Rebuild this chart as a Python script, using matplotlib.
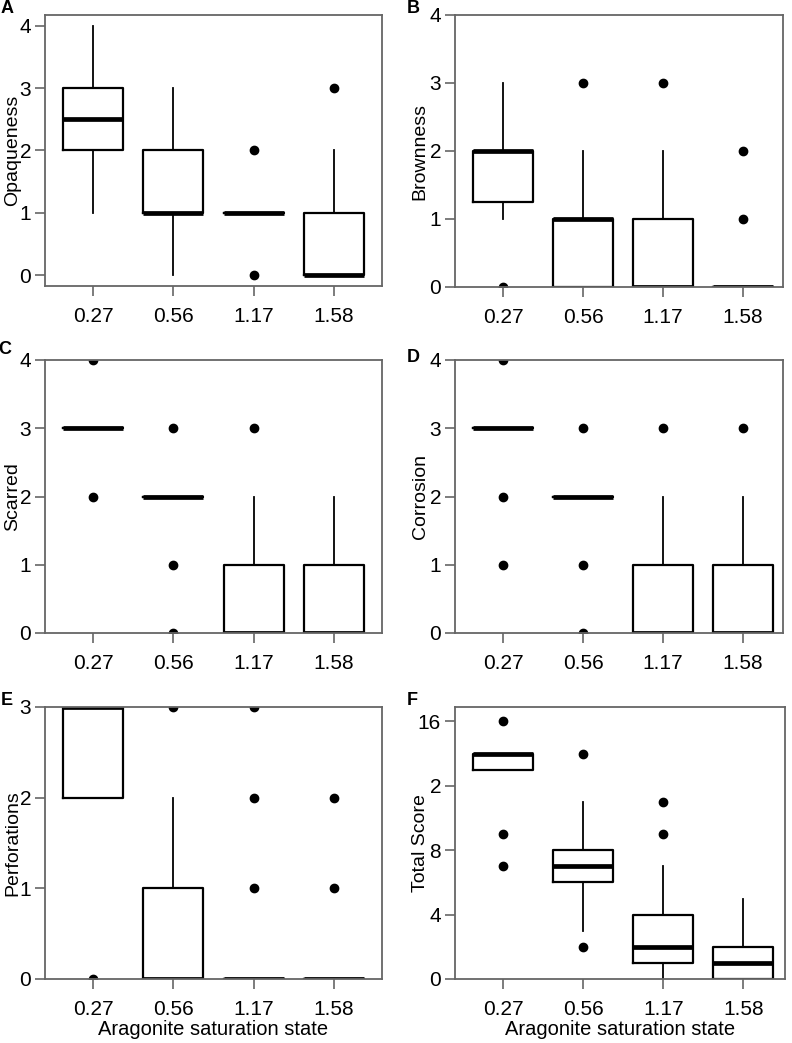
import numpy as np
import matplotlib
matplotlib.use("Agg")
import matplotlib.pyplot as plt

plt.rcParams['font.family'] = ['Liberation Sans', 'DejaVu Sans']

#==========================DATA========================================
# x categories (aragonite saturation state)
states = ['0.27', '0.56', '1.17', '1.58']

# box stats per category: [whislo, q1, med, q3, whishi]
opaq_box = [[1, 2, 2.5, 3, 4], [0, 1, 1, 2, 3], [1, 1, 1, 1, 1], [0, 0, 0, 1, 2]]
opaq_out = [[], [], [0, 2], [3]]

brown_box = [[1, 1.25, 2, 2, 3], [0, 0, 1, 1, 2], [0, 0, 0, 1, 2], [0, 0, 0, 0, 0]]
brown_out = [[0], [3], [3], [1, 2]]

scar_box = [[3, 3, 3, 3, 3], [2, 2, 2, 2, 2], [0, 0, 0, 1, 2], [0, 0, 0, 1, 2]]
scar_out = [[2, 4], [0, 1, 3], [3], []]

corr_box = [[3, 3, 3, 3, 3], [2, 2, 2, 2, 2], [0, 0, 0, 1, 2], [0, 0, 0, 1, 2]]
corr_out = [[1, 2, 4], [0, 1, 3], [3], [3]]

perf_box = [[2, 2, 3, 3, 3], [0, 0, 0, 1, 2], [0, 0, 0, 0, 0], [0, 0, 0, 0, 0]]
perf_out = [[0], [3], [1, 2, 3], [1, 2]]

total_box = [[13, 13, 14, 14, 14], [3, 6, 7, 8, 11], [0, 1, 2, 4, 7], [0, 0, 1, 2, 5]]
total_out = [[7, 9, 16], [2, 14], [9, 11], []]

#==========================LAYOUT (pixels)=============================
W, H = 792, 1043
fig = plt.figure(figsize=(W / 100, H / 100), dpi=100)

def px_axes(left, right, top, bottom):
    return fig.add_axes([left / W, 1 - bottom / H, (right - left) / W, (bottom - top) / H])

def make_stats(boxes, outs):
    st = []
    for b, o in zip(boxes, outs):
        st.append(dict(whislo=b[0], q1=b[1], med=b[2], q3=b[3], whishi=b[4], fliers=o))
    return st

frame_col = '#666666'
fs = 15

def draw_panel(ax, boxes, outs, ylabel, ylim, yticks, yticklabels, xlim, labx, letter, letter_xy):
    ax.bxp(make_stats(boxes, outs), positions=[1, 2, 3, 4], widths=0.75, showcaps=False,
           boxprops=dict(color='black', lw=1.6),
           medianprops=dict(color='black', lw=3.4, solid_capstyle='butt'),
           whiskerprops=dict(color='black', lw=1.3),
           flierprops=dict(marker='o', markerfacecolor='black', markeredgecolor='black', markersize=6))
    ax.set_xlim(xlim)
    ax.set_ylim(ylim)
    ax.set_xticks([1, 2, 3, 4])
    ax.set_xticklabels(states, fontsize=fs)
    ax.set_yticks(yticks)
    ax.set_yticklabels(yticklabels, fontsize=fs)
    ax.tick_params(axis='both', direction='out', length=7, width=1.2, color=frame_col)
    ax.tick_params(axis='x', pad=8)
    ax.tick_params(axis='y', pad=3)
    for s in ax.spines.values():
        s.set_color(frame_col)
        s.set_linewidth(1.3)
    ax.set_ylabel(ylabel, fontsize=14)
    ax.yaxis.set_label_coords(labx, 0.5)
    fig.text(letter_xy[0] / W, 1 - letter_xy[1] / H, letter, fontsize=13, fontweight='bold', va='baseline')

ax_a = px_axes(45, 382, 15, 286)
draw_panel(ax_a, opaq_box, opaq_out, 'Opaqueness', (-0.17, 4.17), [0, 1, 2, 3, 4],
           ['0', '1', '2', '3', '4'], (0.4, 4.6), -0.071, 'A', (1, 13))

ax_b = px_axes(455, 783, 15, 287)
draw_panel(ax_b, brown_box, brown_out, 'Brownness', (0, 4), [0, 1, 2, 3, 4],
           ['0', '1', '2', '3', '4'], (0.4, 4.5), -0.08, 'B', (407, 13))

ax_c = px_axes(45, 382, 360, 633)
draw_panel(ax_c, scar_box, scar_out, 'Scarred', (0, 4), [0, 1, 2, 3, 4],
           ['0', '1', '2', '3', '4'], (0.4, 4.6), -0.071, 'C', (-2, 354))

ax_d = px_axes(455, 783, 360, 633)
draw_panel(ax_d, corr_box, corr_out, 'Corrosion', (0, 4), [0, 1, 2, 3, 4],
           ['0', '1', '2', '3', '4'], (0.4, 4.5), -0.08, 'D', (407, 362))

ax_e = px_axes(45, 382, 707, 979)
draw_panel(ax_e, perf_box, perf_out, 'Perforations', (0, 3), [0, 1, 2, 3],
           ['0', '1', '2', '3'], (0.4, 4.6), -0.071, 'E', (1, 705))
ax_e.set_xlabel('Aragonite saturation state', fontsize=14.5, labelpad=1)

ax_f = px_axes(455, 785, 707, 979)
draw_panel(ax_f, total_box, total_out, 'Total Score', (0, 16.9), [0, 4, 8, 12, 16],
           ['0', '4', '8', '2', '16'], (0.4, 4.52), -0.08, 'F', (407, 705))
ax_f.set_xlabel('Aragonite saturation state', fontsize=14.5, labelpad=1)

fig.savefig('out.png', dpi=100)
